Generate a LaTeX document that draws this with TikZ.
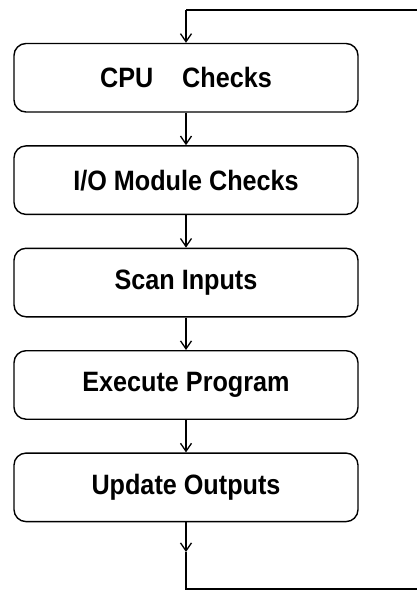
\documentclass[tikz,border=0pt]{standalone}
\usepackage{fontspec}
\setmainfont{Liberation Sans}[FakeStretch=0.9]
\usetikzlibrary{positioning,arrows.meta}

\begin{document}
\begin{tikzpicture}[
        x=1pt, y=-1pt,
        node distance=32.5pt,
        stage/.style={draw, rounded corners=12pt, line width=1.4pt,
            minimum width=344pt, minimum height=68.5pt,
            font=\bfseries\fontsize{28}{32}\selectfont},
        wire/.style={line width=1.3pt},
        flow/.style={wire, -{Straight Barb[length=8pt,width=11pt]}}
    ]
        \useasboundingbox (0,0) rectangle (417,591);
        \node[stage] (cpu) at (186, 77.75) {CPU\hspace{22pt} Checks};
        \node[stage] (io)  [below=of cpu] {I/O Module Checks};
        \node[stage] (scan) [below=of io] {Scan Inputs};
        \node[stage] (exec) [below=of scan] {Execute Program};
        \node[stage] (upd) [below=of exec] {Update Outputs};
        \coordinate (retA) at (186, 552);
        \coordinate (retB) at (186, 589);
        \coordinate (retC) at (420, 589);
        \coordinate (retD) at (420, 10);
        \coordinate (retE) at (186, 10);
        \draw[flow] (cpu) -- (io);
        \draw[flow] (io) -- (scan);
        \draw[flow] (scan) -- (exec);
        \draw[flow] (exec) -- (upd);
        \draw[flow] (upd) -- (retA);
        \draw[wire] (retA) -- (retB) -- (retC) -- (retD) -- (retE);
        \draw[flow] (retE) -- (cpu);
    \end{tikzpicture}
\end{document}
